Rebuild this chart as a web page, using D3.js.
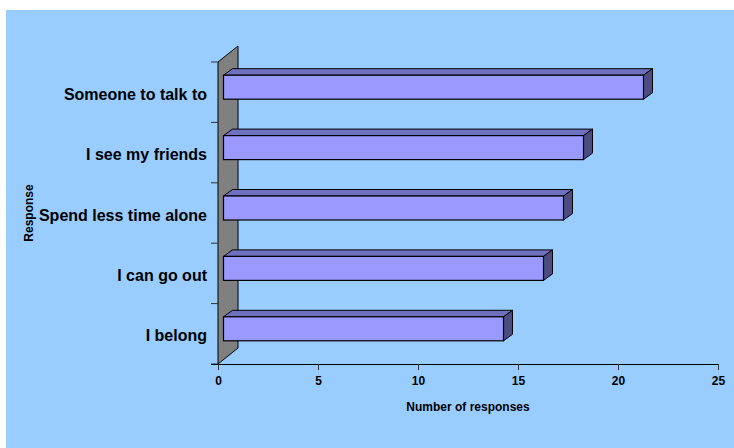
<!DOCTYPE html>
<html>
<head>
<meta charset="utf-8">
<script src="https://cdn.jsdelivr.net/npm/d3@7"></script>
<style>
  html, body { margin: 0; padding: 0; background: #ffffff; }
  svg { display: block; }
  text { font-family: Arial, "Liberation Sans", sans-serif; font-weight: bold; fill: #000; }
</style>
</head>
<body>
<svg id="chart" width="734" height="448"></svg>
<script>
// Survey responses, top to bottom
const categories = ["Someone to talk to", "I see my friends", "Spend less time alone", "I can go out", "I belong"];
const responses = [21, 18, 17, 16, 14];
const xTicks = [0, 5, 10, 15, 20, 25];
const xTitle = "Number of responses";
const yTitle = "Response";

const svg = d3.select("#chart");

// panel background
svg.append("rect").attr("x", 6).attr("y", 10).attr("width", 728).attr("height", 438).attr("fill", "#99ccff");

const x = d3.scaleLinear().domain([0, 25]).range([218, 718]);
const y = d3.scaleBand().domain(categories).range([62, 364]).padding(0);

// 3D depth of the wall and of each bar
const depth = { dx: 20, dy: -16 };
const barOff = { dx: 5.5, dy: -5 };
const barDepth = { dx: 9, dy: -6.5 };
const barH = 24;

// back wall (side panel)
const wall = [[x(0), y.range()[0]], [x(0) + depth.dx, y.range()[0] + depth.dy],
              [x(0) + depth.dx, y.range()[1] + depth.dy], [x(0), y.range()[1]]];
svg.append("polygon").attr("points", wall.map(p => p.join(",")).join(" "))
  .attr("fill", "#808080").attr("stroke", "#000").attr("stroke-width", 1);

// category tick marks at band boundaries
const bounds = categories.map(c => y(c)).concat([y.range()[1]]);
svg.append("g").selectAll("line").data(bounds).join("line")
  .attr("x1", x(0) - 7).attr("x2", x(0)).attr("y1", d => d).attr("y2", d => d)
  .attr("stroke", "#333").attr("stroke-width", 1);

// value axis
const xAxis = svg.append("g").attr("transform", `translate(0,${y.range()[1]})`)
  .call(d3.axisBottom(x).tickValues(xTicks).tickSize(6).tickSizeOuter(0).tickPadding(6));
xAxis.select(".domain").attr("stroke", "#000").attr("d", `M${x(0) - 7},0.5H${x(25)}`);
xAxis.selectAll(".tick line").attr("stroke", "#333");
xAxis.selectAll("text").attr("font-size", 12).attr("font-weight", "bold")
  .attr("font-family", "Arial, 'Liberation Sans', sans-serif").attr("fill", "#000");

// bars: front, top and end faces
const bars = svg.append("g").selectAll("g").data(categories.map((c, i) => ({ c, v: responses[i] }))).join("g");
bars.each(function(d) {
  const g = d3.select(this);
  const cy = y(d.c) + y.bandwidth() / 2 + barOff.dy;
  const x0 = x(0) + barOff.dx, x1 = x(d.v) + barOff.dx;
  const t = cy - barH / 2, b = cy + barH / 2;
  const top = [[x0, t], [x0 + barDepth.dx, t + barDepth.dy], [x1 + barDepth.dx, t + barDepth.dy], [x1, t]];
  const side = [[x1, t], [x1 + barDepth.dx, t + barDepth.dy], [x1 + barDepth.dx, b + barDepth.dy], [x1, b]];
  g.append("polygon").attr("points", top.map(p => p.join(",")).join(" "))
    .attr("fill", "#7070c0").attr("stroke", "#000").attr("stroke-width", 1).attr("stroke-linejoin", "round");
  g.append("polygon").attr("points", side.map(p => p.join(",")).join(" "))
    .attr("fill", "#4c4c80").attr("stroke", "#000").attr("stroke-width", 1).attr("stroke-linejoin", "round");
  g.append("rect").attr("x", x0).attr("y", t).attr("width", x1 - x0).attr("height", barH)
    .attr("fill", "#9999ff").attr("stroke", "#000").attr("stroke-width", 1.2);
});

// category labels
svg.append("g").selectAll("text").data(categories).join("text")
  .attr("x", 207).attr("y", d => y(d) + y.bandwidth() / 2 + 2)
  .attr("text-anchor", "end").attr("dominant-baseline", "central")
  .attr("font-size", 16).text(d => d);

// axis titles
svg.append("text").attr("x", 468).attr("y", 411).attr("text-anchor", "middle")
  .attr("font-size", 12).text(xTitle);
svg.append("text").attr("transform", "translate(33,213) rotate(-90)").attr("text-anchor", "middle")
  .attr("font-size", 12).text(yTitle);
</script>
</body>
</html>
